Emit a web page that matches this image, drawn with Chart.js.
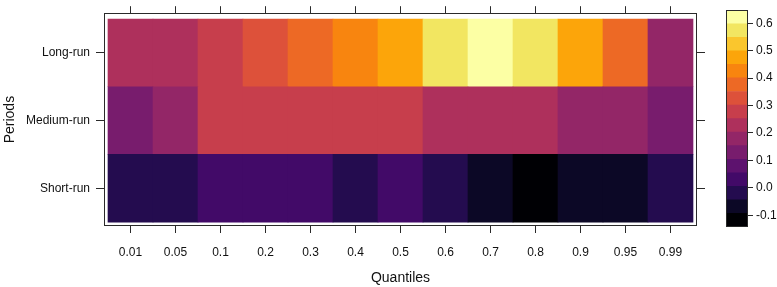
<!DOCTYPE html>
<html lang="en">
<head>
  <meta charset="UTF-8"/>
  <title>Quantile effects by period</title>
  <script src="https://cdn.jsdelivr.net/npm/chart.js@4"></script>
  <style>
    body { margin:0; background:#fff; }
    .wrap { position:relative; width:777px; height:287px; }
    #heat { position:absolute; left:0; top:0; }
    #key { position:absolute; left:712px; top:0; }
  </style>
</head>
<body>
<div class="wrap">
  <canvas id="heat" width="712" height="287"></canvas>
  <canvas id="key" width="65" height="287"></canvas>
</div>

<script>
  // data
  const quantiles = ['0.01','0.05','0.1','0.2','0.3','0.4','0.5','0.6','0.7','0.8','0.9','0.95','0.99'];
  const periods = ['Short-run','Medium-run','Long-run'];   // bottom to top
  const shortRun  = [-0.018,-0.021, 0.032, 0.027, 0.030,-0.015, 0.036,-0.012,-0.071,-0.143,-0.066,-0.074,-0.024];
  const mediumRun = [ 0.131, 0.180, 0.279, 0.282, 0.275, 0.270, 0.284, 0.232, 0.224, 0.236, 0.178, 0.170, 0.124];
  const longRun   = [ 0.226, 0.221, 0.268, 0.327, 0.371, 0.419, 0.474, 0.571, 0.648, 0.566, 0.468, 0.378, 0.172];
  const keyTicks  = [-0.1, 0.0, 0.1, 0.2, 0.3, 0.4, 0.5, 0.6];
  const keyLabels = ['-0.1','0.0','0.1','0.2','0.3','0.4','0.5','0.6'];
  const inferno = ['#000004','#0C0826','#240C4F','#420A68','#5D126E','#781C6D','#932667','#AE305C',
                   '#C73E4C','#DD513A','#ED6925','#F8850F','#FCA50A','#FAC62D','#F2E661','#FCFFA4'];

  // levels span the data range, like lattice's default cuts
  const rows = [shortRun, mediumRun, longRun];
  const allVals = rows.flat();
  const zMin = Math.min(...allVals), zMax = Math.max(...allVals);
  const nBins = inferno.length;
  const step = (zMax - zMin) / nBins;
  const colFor = v => inferno[Math.min(nBins - 1, Math.floor((v - zMin) / step))];

  Chart.defaults.font.family = "'Liberation Sans', Arial, Helvetica, sans-serif";
  Chart.defaults.font.size = 12;
  Chart.defaults.color = '#111';

  // box round the plot area
  const frame = {
    id: 'frame',
    afterDraw(c) {
      const a = c.chartArea, ctx = c.ctx;
      ctx.save();
      ctx.strokeStyle = '#2a2a2a';
      ctx.lineWidth = 1;
      ctx.strokeRect(Math.round(a.left) + 0.5, Math.round(a.top) + 0.5,
                     Math.round(a.right - a.left) - 1, Math.round(a.bottom - a.top) - 1);
      ctx.restore();
    }
  };

  const marks = len => ({ display:true, drawOnChartArea:false, drawTicks:true, tickLength:len, color:'#2a2a2a', offset:false });
  const xTicks = axis => { axis.ticks = quantiles.map((q, i) => ({ value:i })); };
  const yTicks = axis => { axis.ticks = periods.map((p, i) => ({ value:i + 0.5 })); };
  const xMin = -0.589, xMax = 12.589, yMin = -0.058, yMax = 3.087;

  new Chart(document.getElementById('heat'), {
    type: 'bar',
    data: {
      datasets: rows.map((vals, r) => ({
        label: periods[r],
        data: vals.map((v, i) => ({ x:i, y:[r, r + 1] })),
        backgroundColor: vals.map(colFor),
        borderWidth: 0,
        grouped: false,
        barPercentage: 1,
        categoryPercentage: 1
      }))
    },
    options: {
      responsive: false,
      animation: false,
      devicePixelRatio: 1,
      layout: { padding: 0 },
      plugins: { legend:{ display:false }, tooltip:{ enabled:false } },
      scales: {
        x: {
          type:'linear', position:'bottom', offset:false, min:xMin, max:xMax,
          afterBuildTicks: xTicks,
          afterFit: a => { a.height = 61; },
          ticks: { autoSkip:false, maxRotation:0, padding:12, callback:(v, i) => quantiles[i] },
          grid: marks(7),
          border: { display:false },
          title: { display:true, text:'Quantiles', font:{ size:14 }, color:'#111', padding:{ top:0, bottom:0 } }
        },
        x2: {
          type:'linear', position:'top', offset:false, min:xMin, max:xMax,
          afterBuildTicks: xTicks,
          afterFit: a => { a.height = 9; },
          ticks: { display:false },
          grid: marks(7),
          border: { display:false }
        },
        y: {
          type:'linear', position:'left', min:yMin, max:yMax,
          afterBuildTicks: yTicks,
          afterFit: a => { a.width = 104; },
          ticks: { padding:6, callback:(v, i) => periods[i] },
          grid: marks(8),
          border: { display:false },
          title: { display:true, text:'Periods', font:{ size:14 }, color:'#111', padding:{ top:2, bottom:0 } }
        },
        y2: {
          type:'linear', position:'right', min:yMin, max:yMax,
          afterBuildTicks: yTicks,
          afterFit: a => { a.width = 15; },
          ticks: { display:false },
          grid: marks(8),
          border: { display:false }
        }
      }
    },
    plugins: [frame]
  });

  // colour key
  new Chart(document.getElementById('key'), {
    type: 'bar',
    data: {
      labels: [''],
      datasets: inferno.map((c, k) => ({
        data: [[zMin + k * step, zMin + (k + 1) * step]],
        backgroundColor: c,
        borderWidth: 0,
        grouped: false,
        barPercentage: 1,
        categoryPercentage: 1
      }))
    },
    options: {
      responsive: false,
      animation: false,
      devicePixelRatio: 1,
      layout: { padding:{ left:14, top:8, bottom:60, right:0 } },
      plugins: { legend:{ display:false }, tooltip:{ enabled:false } },
      scales: {
        x: { display:false },
        y: {
          position:'right', min:zMin, max:zMax,
          afterBuildTicks: a => { a.ticks = keyTicks.map(v => ({ value:v })); },
          afterFit: a => { a.width = 29; },
          ticks: { padding:3, callback:(v, i) => keyLabels[i] },
          grid: marks(5),
          border: { display:false }
        }
      }
    },
    plugins: [frame]
  });
</script>
</body>
</html>
